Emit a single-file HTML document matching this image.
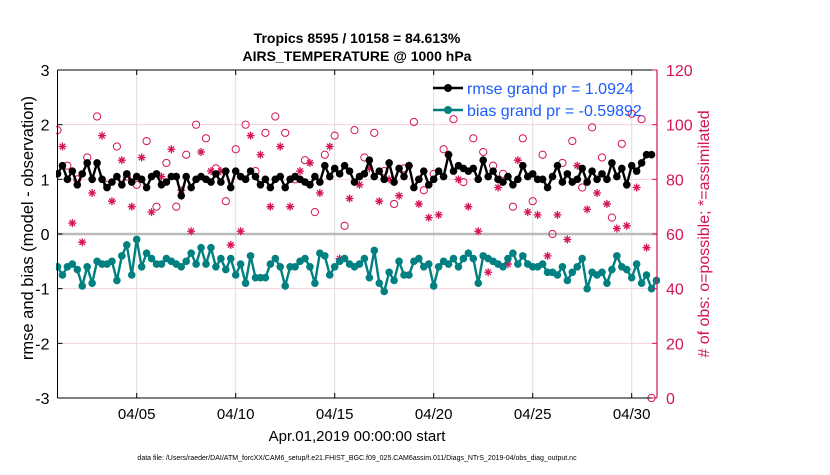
<!DOCTYPE html>
<html><head><meta charset="utf-8"><style>
body{margin:0;background:#fff;}
svg text{font-family:"Liberation Sans",sans-serif;}
</style></head><body>
<svg id="chart" width="830" height="470" xmlns="http://www.w3.org/2000/svg">
<defs><clipPath id="pc"><rect x="56" y="68" width="604" height="334"/></clipPath></defs>
<text x="357" y="43" text-anchor="middle" font-size="14" font-weight="bold">Tropics 8595 / 10158 = 84.613%</text>
<text x="357" y="61" text-anchor="middle" font-size="14" font-weight="bold">AIRS_TEMPERATURE @ 1000 hPa</text>
<g id="grid"></g>
<g id="marks" clip-path="url(#pc)"></g>
<g id="axes"></g>
<text transform="translate(33,228) rotate(-90)" text-anchor="middle" font-size="16.5">rmse and bias (model - observation)</text>
<text transform="translate(709,234) rotate(-90)" text-anchor="middle" font-size="16" fill="#d4145a"># of obs: o=possible; *=assimilated</text>
<text x="357" y="441" text-anchor="middle" font-size="15">Apr.01,2019 00:00:00 start</text>
<text x="357" y="460" text-anchor="middle" font-size="7">data file: /Users/raeder/DAI/ATM_forcXX/CAM6_setup/f.e21.FHIST_BGC.f09_025.CAM6assim.011/Diags_NTrS_2019-04/obs_diag_output.nc</text>
<g>
<line x1="433" y1="88" x2="463" y2="88" stroke="#000" stroke-width="2.5"/><circle cx="448" cy="88" r="4" fill="#000"/>
<text x="467" y="94" font-size="16" fill="#1a5cff">rmse grand pr = 1.0924</text>
<line x1="433" y1="110" x2="463" y2="110" stroke="#008080" stroke-width="2.5"/><circle cx="448" cy="110" r="4" fill="#008080"/>
<text x="467" y="116" font-size="16" fill="#1a5cff">bias grand pr = -0.59892</text>
</g>
</svg>
<script>
const rmse=[1.1,1.25,1.0,1.15,0.9,1.1,1.3,1.0,1.3,1.0,0.85,0.95,1.05,0.9,1.1,0.95,1.05,1.0,0.85,1.05,1.1,0.9,0.95,1.05,1.05,0.7,1.05,0.85,1.0,1.05,1.0,0.95,1.1,0.95,1.15,0.85,1.15,1.05,1.0,1.15,1.05,0.9,1.0,0.85,1.0,1.05,0.85,1.0,1.05,1.0,0.95,0.9,1.05,0.95,1.25,1.05,1.2,1.1,1.25,1.15,0.95,1.05,1.1,1.35,1.05,1.15,1.0,1.3,0.95,1.2,1.05,1.25,0.85,1.0,1.15,0.9,1.0,1.15,1.05,1.45,1.15,1.25,1.2,1.15,1.2,1.0,1.35,1.05,1.15,1.0,0.95,1.05,0.9,1.0,1.25,1.05,1.1,1.0,1.0,0.85,1.05,1.25,0.95,1.1,0.95,1.0,1.2,0.95,1.15,1.0,1.1,1.0,1.3,1.05,1.2,0.9,1.25,1.15,1.3,1.45,1.45];
const bias=[-0.6,-0.75,-0.6,-0.55,-0.65,-0.95,-0.6,-0.9,-0.5,-0.55,-0.55,-0.5,-0.85,-0.4,-0.2,-0.75,-0.1,-0.6,-0.35,-0.45,-0.55,-0.55,-0.45,-0.5,-0.55,-0.6,-0.5,-0.35,-0.55,-0.25,-0.55,-0.25,-0.6,-0.45,-0.65,-0.45,-0.75,-0.55,-0.9,-0.4,-0.8,-0.8,-0.8,-0.55,-0.45,-0.6,-0.95,-0.6,-0.6,-0.5,-0.45,-0.6,-0.9,-0.35,-0.4,-0.75,-0.6,-0.5,-0.45,-0.55,-0.6,-0.55,-0.45,-0.8,-0.3,-0.9,-1.05,-0.7,-0.85,-0.5,-0.75,-0.75,-0.5,-0.45,-0.6,-0.55,-0.95,-0.6,-0.5,-0.55,-0.45,-0.6,-0.45,-0.35,-0.45,-0.9,-0.4,-0.45,-0.5,-0.55,-0.6,-0.45,-0.35,-0.55,-0.4,-0.55,-0.6,-0.6,-0.55,-0.7,-0.7,-0.75,-0.6,-0.85,-0.7,-0.6,-0.45,-1.0,-0.7,-0.75,-0.7,-0.9,-0.65,-0.4,-0.6,-0.65,-0.8,-0.55,-0.9,-0.75,-1.0,-0.85];
const possible=[98,85,80,88,103,78,92,81,78,94,70,86,70,89,100,95,84,72,91,100,83,97,103,97,80,87,68,89,96,63,98,88,97,83,71,84,101,76,82,91,102,79,95,90,85,82,70,95,72,89,60,86,94,77,99,88,66,93,104,102,0];
const assimilated=[92,64,57,75,96,72,87,70,88,68,81,91,76,61,90,83,83,56,61,96,89,70,92,70,83,86,75,92,51,73,78,84,72,80,74,85,71,66,67,89,80,70,61,46,77,49,87,68,67,52,67,58,85,69,75,71,62,63,77,55];
const leftTicks=[-3,-2,-1,0,1,2,3];
const rightTicks=[0,20,40,60,80,100,120];
const dayTicks=[4,9,14,19,24,29];
const dayLabels=['04/05','04/10','04/15','04/20','04/25','04/30'];
const X0=57.5,X1=657,Y0=398,Y1=70,DAYPX=19.8;
const xs=d=>X0+d*DAYPX;
const yl=v=>Y0-(v+3)/6*(Y0-Y1);
const yr=v=>Y0-v/120*(Y0-Y1);
const NS='http://www.w3.org/2000/svg';
function mk(tag,attrs,parent){const e=document.createElementNS(NS,tag);for(const k in attrs)e.setAttribute(k,attrs[k]);parent.appendChild(e);return e;}
const grid=document.getElementById('grid'),marks=document.getElementById('marks'),axes=document.getElementById('axes');
dayTicks.forEach(d=>{const l=mk('line',{x1:xs(d),x2:xs(d),y1:Y1,y2:Y0,stroke:'#ddd','stroke-width':1},grid);

});
rightTicks.forEach(v=>{const l=mk('line',{x1:X0,x2:X1,y1:yr(v),y2:yr(v),stroke:'#f5d0dc','stroke-width':1},grid);

});
const z=mk('line',{x1:X0,x2:X1,y1:yl(0),y2:yl(0),stroke:'#bbb','stroke-width':2.5},grid);


possible.forEach((v,i)=>{const c=mk('circle',{cx:xs(i*0.5),cy:yr(v),r:3.6,fill:'none',stroke:'#d4145a','stroke-width':1},marks);

});
assimilated.forEach((v,i)=>{const x=xs(i*0.5+0.25),y=yr(v),s=4;
const g=mk('path',{d:`M${x-s},${y}H${x+s}M${x},${y-s}V${y+s}M${x-s*0.7},${y-s*0.7}L${x+s*0.7},${y+s*0.7}M${x-s*0.7},${y+s*0.7}L${x+s*0.7},${y-s*0.7}`,stroke:'#d4145a','stroke-width':1.3,fill:'none'},marks);

});
function series(arr,color,name,r){
const p=mk('polyline',{points:arr.map((v,i)=>xs(i*0.25)+','+yl(v)).join(' '),fill:'none',stroke:color,'stroke-width':2.4},marks);


arr.forEach((v,i)=>{const c=mk('circle',{cx:xs(i*0.25),cy:yl(v),r:r,fill:color},marks);

});}
series(rmse,'#000','rmse',3.8);
series(bias,'#008080','bias',3.8);
mk('line',{x1:X0,x2:X1,y1:Y1,y2:Y1,stroke:'#000','stroke-width':1},axes);
mk('line',{x1:X0,x2:X1,y1:Y0,y2:Y0,stroke:'#000','stroke-width':1},axes);
mk('line',{x1:X0,x2:X0,y1:Y1,y2:Y0,stroke:'#000','stroke-width':1},axes);
mk('line',{x1:X1,x2:X1,y1:Y1,y2:Y0,stroke:'#d4145a','stroke-width':1.2},axes);
leftTicks.forEach(v=>{mk('line',{x1:X0,x2:X0+5,y1:yl(v),y2:yl(v),stroke:'#000'},axes);
const t=mk('text',{x:X0-8,y:yl(v)+6,'text-anchor':'end','font-size':16},axes);t.textContent=v;

});
rightTicks.forEach(v=>{mk('line',{x1:X1-5,x2:X1,y1:yr(v),y2:yr(v),stroke:'#d4145a'},axes);
const t=mk('text',{x:X1+9,y:yr(v)+6,'font-size':16,fill:'#d4145a'},axes);t.textContent=v;

});
dayTicks.forEach((d,i)=>{mk('line',{x1:xs(d),x2:xs(d),y1:Y0,y2:Y0-5,stroke:'#000'},axes);mk('line',{x1:xs(d),x2:xs(d),y1:Y1,y2:Y1+5,stroke:'#000'},axes);
const t=mk('text',{x:xs(d),y:419,'text-anchor':'middle','font-size':15},axes);t.textContent=dayLabels[i];

});
</script>
</body></html>
